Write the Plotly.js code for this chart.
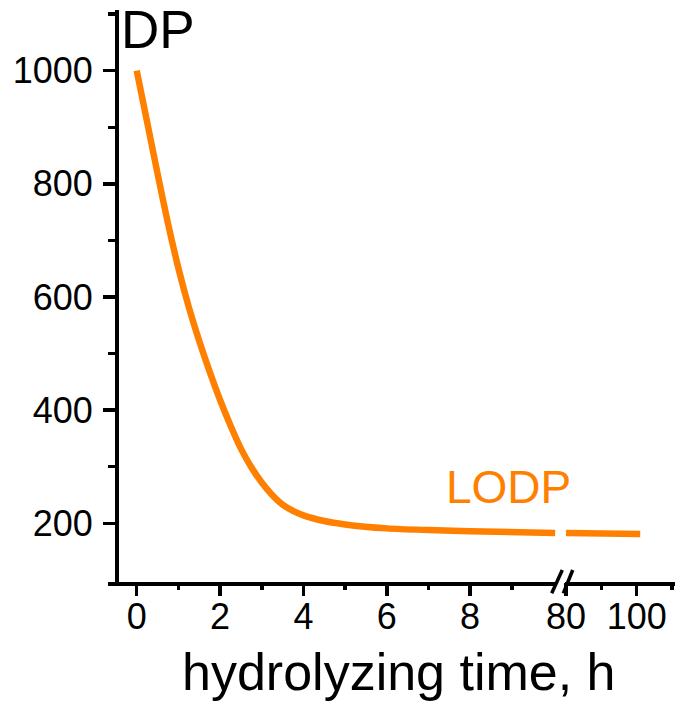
<!DOCTYPE html>
<html>
<head>
<meta charset="utf-8">
<script src="https://cdn.plot.ly/plotly-3.0.1.min.js"></script>
<style>html,body{margin:0;padding:0;background:#fff;}#chart{width:675px;height:702px;}</style>
</head>
<body>
<div id="chart"></div>
<script>
// hydrolysis time (h), first part of broken axis
const timeShort = [0, 0.25, 0.5, 0.75, 1.0, 1.25, 1.5, 1.75, 2.0, 2.25, 2.5, 2.75, 3.0, 3.25, 3.5, 3.75, 4.0, 4.5, 5.0, 6.0, 7.0, 8.0, 10.04];
const dpShort   = [1000, 909, 818, 730, 651, 582, 522, 468, 418, 373, 332, 299, 272, 250, 233, 222, 214, 204, 198, 191, 188, 186, 183];
// after the axis break
const timeLong = [80, 90, 101];
const dpLong   = [183, 182, 181];

const xTicksShort = [0, 2, 4, 6, 8];
const xMinorShort = [1, 3, 5, 7, 9];
const xTicksLong = [80, 100];
const xMinorLong = [90, 110];
const yTicks = [200, 400, 600, 800, 1000];
const yMinor = [300, 500, 700, 900, 1100];

const orange = '#FF8000';
const FONT = '"Liberation Sans", Arial, sans-serif';
const tickFont = {family: FONT, size: 36, color: '#000'};

const traces = [
  {x: timeShort, y: dpShort, xaxis: 'x', yaxis: 'y', mode: 'lines',
   line: {color: orange, width: 6.5, shape: 'spline', smoothing: 0.8}, hoverinfo: 'skip'},
  {x: timeLong, y: dpLong, xaxis: 'x2', yaxis: 'y', mode: 'lines',
   line: {color: orange, width: 6.5}, hoverinfo: 'skip'},
  // empty traces so that the tick-mark overlay axes get drawn
  {x: [], y: [], xaxis: 'x3', yaxis: 'y', mode: 'lines', hoverinfo: 'skip'},
  {x: [], y: [], xaxis: 'x4', yaxis: 'y', mode: 'lines', hoverinfo: 'skip'}
];

function px2x(p){ return (p - 108) / 567; }
function px2y(p){ return (582 - p) / 572; }

const dom1 = [0, px2x(556)], rng1 = [-0.689, 10.06];
const dom2 = [px2x(565), 1], rng2 = [79.7, 110.85];

// axes carrying the line and the labels
function labelAxis(dom, rng, vals){
  return {domain: dom, range: rng, anchor: 'y', showgrid: false, zeroline: false,
    showline: true, linecolor: '#000', linewidth: 3.5, ticks: '',
    tickmode: 'array', tickvals: vals, ticktext: vals.map(String), tickfont: tickFont};
}
// overlay axes carrying the tick marks
function tickAxis(over, dom, rng, vals, minorVals){
  return {overlaying: over, domain: dom, range: rng, anchor: 'y', showgrid: false, zeroline: false,
    showline: false, showticklabels: false, ticks: 'outside', ticklen: 13, tickwidth: 3.5, tickcolor: '#000',
    tickmode: 'array', tickvals: vals,
    minor: {ticks: 'outside', tickmode: 'array', tickvals: minorVals, ticklen: 7, tickwidth: 3.5, tickcolor: '#000', showgrid: false}};
}

const layout = {
  width: 675, height: 702,
  margin: {l: 108, r: 0, t: 10, b: 120},
  paper_bgcolor: '#fff', plot_bgcolor: '#fff',
  showlegend: false,
  xaxis: labelAxis(dom1, rng1, xTicksShort),
  xaxis2: labelAxis(dom2, rng2, xTicksLong),
  xaxis3: tickAxis('x', dom1, rng1, xTicksShort, xMinorShort),
  xaxis4: tickAxis('x2', dom2, rng2, xTicksLong, xMinorLong),
  yaxis: {
    range: [96.2, 1107.3], anchor: 'free', position: px2x(116),
    showgrid: false, zeroline: false, showline: true, linecolor: '#000', linewidth: 3.5,
    ticks: 'outside', ticklen: 12, tickwidth: 3.5, tickcolor: '#000', tickfont: tickFont,
    tickmode: 'array', tickvals: yTicks, ticktext: yTicks.map(String), ticklabelstandoff: 3,
    minor: {ticks: 'outside', tickmode: 'array', tickvals: yMinor, ticklen: 7, tickwidth: 3.5, tickcolor: '#000', showgrid: false}
  },
  shapes: [
    {type: 'line', xref: 'paper', yref: 'paper', x0: px2x(551.7), y0: px2y(593.3), x1: px2x(562.3), y1: px2y(570), line: {color: '#000', width: 3.5}},
    {type: 'line', xref: 'paper', yref: 'paper', x0: px2x(563.3), y0: px2y(593.3), x1: px2x(572.7), y1: px2y(570), line: {color: '#000', width: 3.5}}
  ],
  annotations: [
    {text: 'DP', xref: 'paper', yref: 'paper', x: px2x(119), y: px2y(29), xanchor: 'left', yanchor: 'middle',
     showarrow: false, font: {family: FONT, size: 53, color: '#000'}},
    {text: 'LODP', xref: 'paper', yref: 'paper', x: px2x(444), y: px2y(487), xanchor: 'left', yanchor: 'middle',
     showarrow: false, font: {family: FONT, size: 46, color: orange}},
    {text: 'hydrolyzing time, h', xref: 'paper', yref: 'paper', x: px2x(399), y: px2y(672), xanchor: 'center', yanchor: 'middle',
     showarrow: false, font: {family: FONT, size: 52, color: '#000'}}
  ]
};

Plotly.newPlot('chart', traces, layout, {displayModeBar: false, staticPlot: true});
</script>
</body>
</html>
